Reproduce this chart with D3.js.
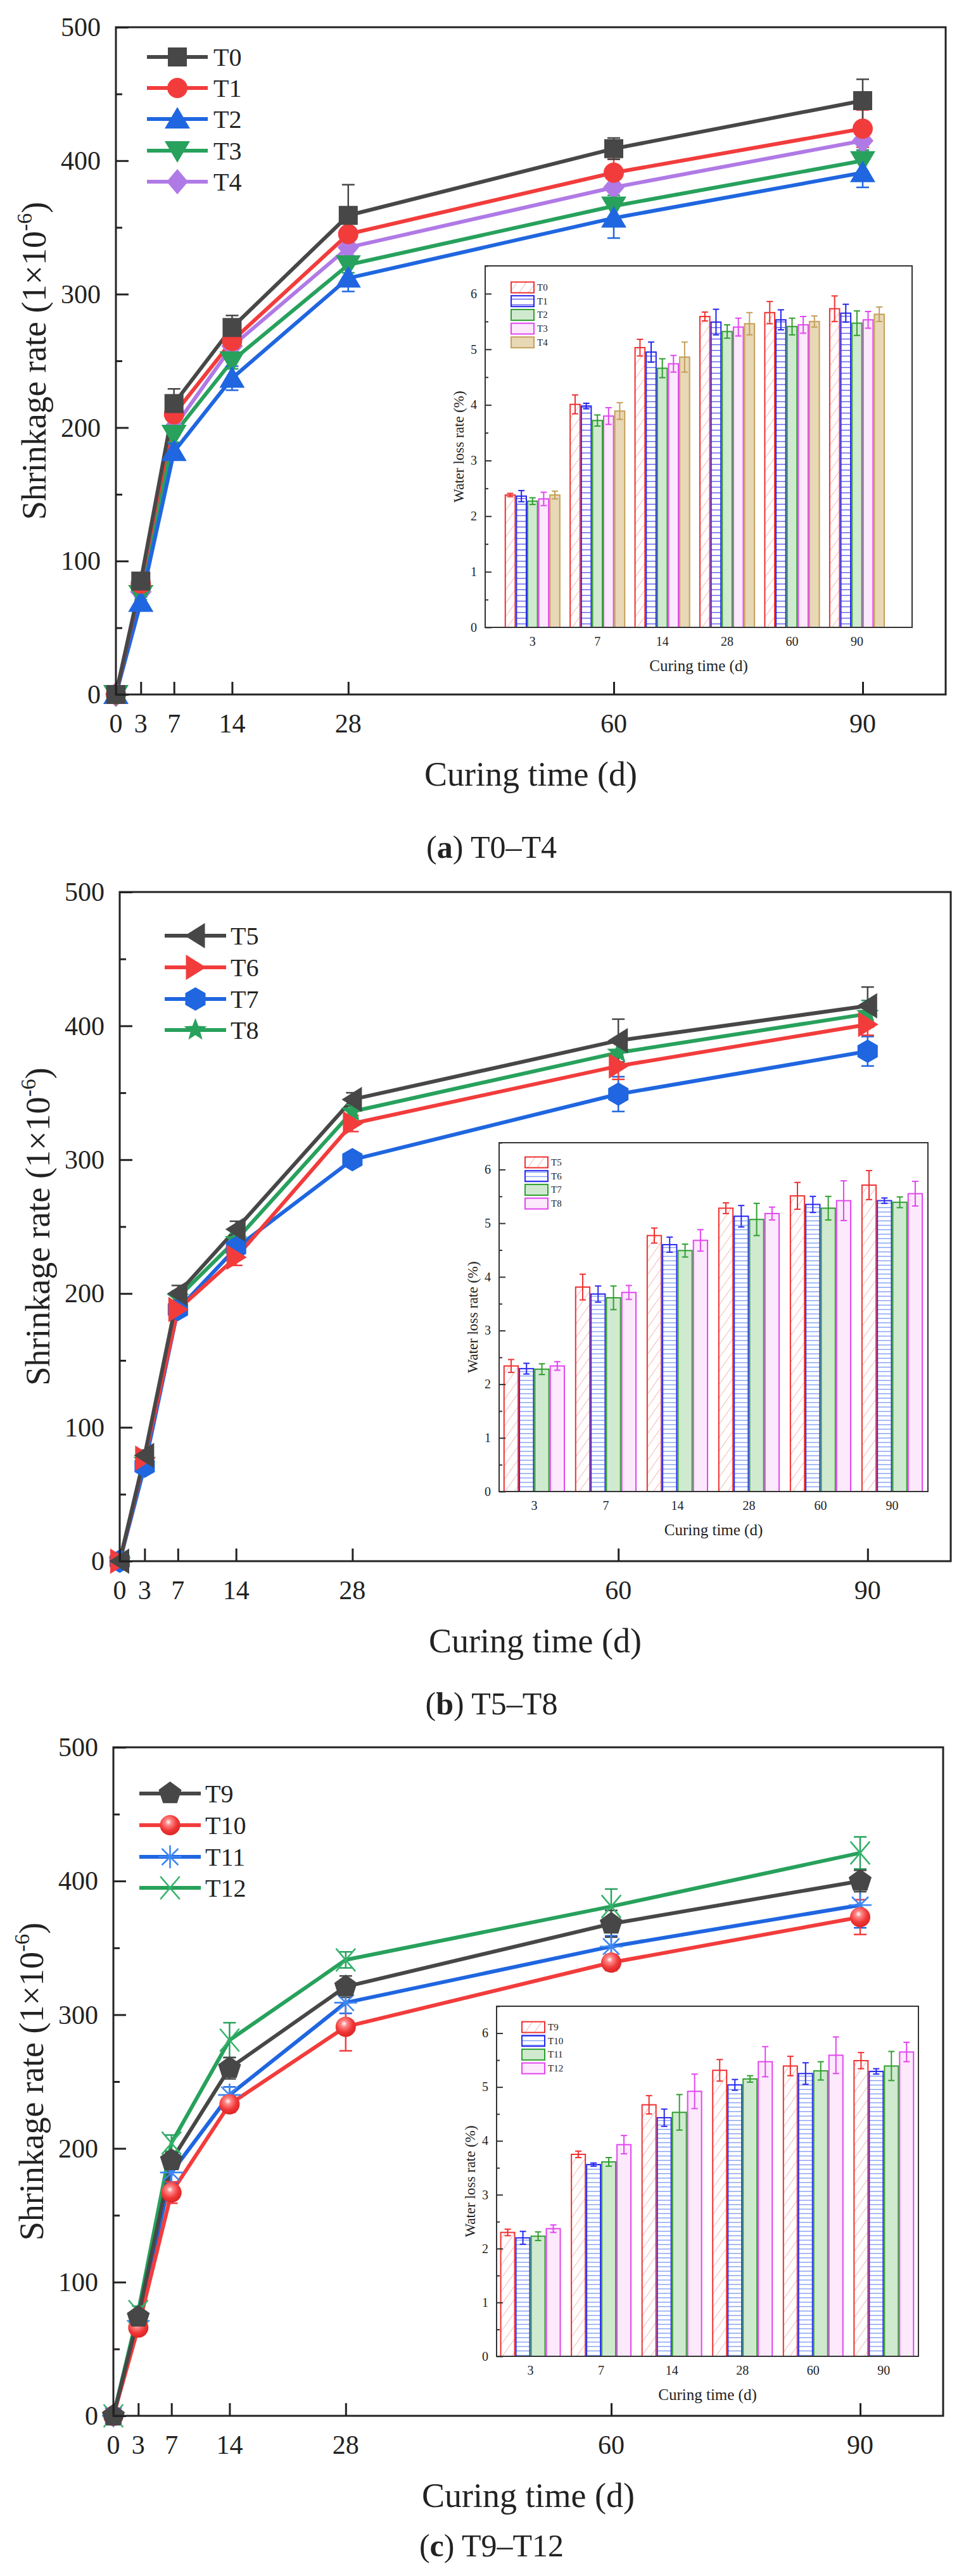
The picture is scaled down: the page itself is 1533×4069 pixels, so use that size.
<!DOCTYPE html>
<html><head><meta charset="utf-8">
<script src="https://cdn.jsdelivr.net/npm/d3@7/dist/d3.min.js"></script>
<style>body{margin:0;background:#fff}svg{display:block}text{font-family:"Liberation Serif","Times New Roman",serif;fill:#222}</style>
</head><body><svg id="c" width="1533" height="4069"></svg>
<script>
// ---------- DATA ----------
const days = [0, 3, 7, 14, 28, 60, 90];
const insetCats = ["3", "7", "14", "28", "60", "90"];
const yTicksMain = [0, 100, 200, 300, 400, 500];
const yTicksInset = [0, 1, 2, 3, 4, 5, 6];

// panel (a)
const namesA = ["T0", "T1", "T2", "T3", "T4"];
const T0 = [0, 85, 218, 275, 359, 409, 445];
const T1 = [0, 83, 210, 265, 345, 391, 424];
const T2 = [0, 69, 182, 237, 312, 357, 391];
const T3 = [0, 75, 195, 250, 322, 366, 400];
const T4 = [0, 77, 200, 261, 335, 380, 415];
const T0err = [0, 4, 11, 9, 23, 8, 16];
const T1err = [0, 4, 8, 6, 8, 10, 14];
const T2err = [0, 4, 6, 9, 10, 15, 11];
const T3err = [0, 4, 6, 6, 6, 8, 8];
const T4err = [0, 4, 6, 6, 6, 8, 8];
const W0 = [2.38, 4.01, 5.03, 5.59, 5.66, 5.73];
const W1 = [2.36, 3.98, 4.95, 5.49, 5.53, 5.65];
const W2 = [2.27, 3.72, 4.66, 5.32, 5.41, 5.47];
const W3 = [2.31, 3.80, 4.74, 5.40, 5.44, 5.53];
const W4 = [2.38, 3.89, 4.86, 5.46, 5.50, 5.63];
const W0err = [0.03, 0.17, 0.15, 0.08, 0.20, 0.23];
const W1err = [0.10, 0.05, 0.18, 0.23, 0.18, 0.16];
const W2err = [0.06, 0.10, 0.17, 0.12, 0.15, 0.22];
const W3err = [0.12, 0.15, 0.15, 0.16, 0.15, 0.15];
const W4err = [0.07, 0.15, 0.27, 0.20, 0.10, 0.13];

// panel (b)
const namesB = ["T5", "T6", "T7", "T8"];
const T5 = [0, 79, 200, 248, 345, 389, 415];
const T6 = [0, 77, 188, 227, 327, 370, 401];
const T7 = [0, 71, 188, 234, 300, 349, 381];
const T8 = [0, 75, 197, 240, 336, 380, 409];
const T5err = [0, 4, 6, 6, 5, 16, 14];
const T6err = [0, 4, 5, 6, 6, 10, 8];
const T7err = [0, 4, 5, 5, 5, 13, 11];
const T8err = [0, 4, 5, 5, 5, 10, 10];
const W5 = [2.34, 3.81, 4.77, 5.28, 5.51, 5.71];
const W6 = [2.29, 3.68, 4.60, 5.13, 5.35, 5.42];
const W7 = [2.28, 3.61, 4.49, 5.07, 5.28, 5.39];
const W8 = [2.34, 3.71, 4.68, 5.18, 5.42, 5.55];
const W5err = [0.12, 0.24, 0.14, 0.10, 0.25, 0.27];
const W6err = [0.10, 0.15, 0.14, 0.20, 0.15, 0.05];
const W7err = [0.10, 0.22, 0.12, 0.30, 0.22, 0.10];
const W8err = [0.08, 0.13, 0.20, 0.12, 0.37, 0.23];

// panel (c)
const namesC = ["T9", "T10", "T11", "T12"];
const T9 = [0, 74, 191, 260, 321, 368, 400];
const T10 = [0, 66, 167, 233, 291, 339, 373];
const T11 = [0, 71, 182, 240, 309, 351, 382];
const T12 = [0, 78, 204, 281, 341, 381, 421];
const T9err = [0, 4, 6, 8, 8, 10, 8];
const T10err = [0, 4, 8, 6, 18, 6, 13];
const T11err = [0, 4, 8, 6, 8, 8, 17];
const T12err = [0, 4, 6, 13, 6, 13, 12];
const W9 = [2.30, 3.75, 4.67, 5.31, 5.39, 5.49];
const W10 = [2.20, 3.56, 4.43, 5.04, 5.25, 5.29];
const W11 = [2.23, 3.61, 4.53, 5.15, 5.30, 5.39];
const W12 = [2.37, 3.93, 4.92, 5.47, 5.59, 5.65];
const W9err = [0.06, 0.06, 0.17, 0.20, 0.18, 0.15];
const W10err = [0.12, 0.03, 0.16, 0.10, 0.20, 0.05];
const W11err = [0.08, 0.08, 0.33, 0.06, 0.17, 0.27];
const W12err = [0.07, 0.17, 0.32, 0.28, 0.34, 0.18];

// ---------- STYLE ----------
const C = {black: "#474747", red: "#f23c3c", blue: "#1f66e0", green: "#27a15c", purple: "#b07ae6",
  blueL: "#3d86f2", greenL: "#33b36b"};
const FONT = '"Liberation Serif","Times New Roman",serif';
const svg = d3.select("#c");
const defs = svg.append("defs");

// patterns for inset bars
function hatchDiag(id, col) {
  const p = defs.append("pattern").attr("id", id).attr("patternUnits", "userSpaceOnUse")
    .attr("width", 12).attr("height", 12).attr("patternTransform", "rotate(35)");
  p.append("rect").attr("width", 12).attr("height", 12).attr("fill", "#fff");
  p.append("line").attr("x1", 0).attr("y1", 0).attr("x2", 0).attr("y2", 12).attr("stroke", col).attr("stroke-width", 1.6);
}
function hatchHoriz(id, col, sp) {
  const p = defs.append("pattern").attr("id", id).attr("patternUnits", "userSpaceOnUse")
    .attr("width", 10).attr("height", sp);
  p.append("rect").attr("width", 10).attr("height", sp).attr("fill", "#fff");
  p.append("line").attr("x1", 0).attr("y1", sp / 2).attr("x2", 10).attr("y2", sp / 2).attr("stroke", col).attr("stroke-width", 1.4);
}
hatchDiag("hRed", "#f7a3a3");
hatchHoriz("hBlue", "#5a5af0", 9);
hatchHoriz("hBlue2", "#7f9ef5", 7);

const grad = defs.append("radialGradient").attr("id", "sphere").attr("cx", "42%").attr("cy", "35%").attr("r", "60%");
grad.append("stop").attr("offset", "0%").attr("stop-color", "#ffffff");
grad.append("stop").attr("offset", "25%").attr("stop-color", "#f88");
grad.append("stop").attr("offset", "70%").attr("stop-color", "#f03838");
grad.append("stop").attr("offset", "100%").attr("stop-color", "#e02828");

const barStyleA = [
  {stroke: "#f03030", fill: "url(#hRed)"},
  {stroke: "#2424ee", fill: "url(#hBlue)"},
  {stroke: "#2f9f2f", fill: "#cfeacf"},
  {stroke: "#e245f0", fill: "#fce9fc"},
  {stroke: "#c4a05a", fill: "#e9d8b6"}
];
const barStyleBC = [
  {stroke: "#f03030", fill: "url(#hRed)"},
  {stroke: "#2a2af0", fill: "url(#hBlue2)"},
  {stroke: "#2f9f2f", fill: "#cfeacf"},
  {stroke: "#e245f0", fill: "#fce9fc"}
];

// ---------- MARKERS ----------
function poly(pts) { return "M" + pts.map(p => p[0].toFixed(2) + "," + p[1].toFixed(2)).join("L") + "Z"; }
function regular(n, r, rot) {
  const pts = [];
  for (let i = 0; i < n; i++) { const a = rot + i * 2 * Math.PI / n; pts.push([r * Math.cos(a), r * Math.sin(a)]); }
  return poly(pts);
}
function star(r1, r2) {
  const pts = [];
  for (let i = 0; i < 10; i++) { const a = -Math.PI / 2 + i * Math.PI / 5; const r = i % 2 ? r2 : r1; pts.push([r * Math.cos(a), r * Math.sin(a)]); }
  return poly(pts);
}
function drawMarker(g, type, x, y, color) {
  const t = g.append("g").attr("transform", `translate(${x},${y})`);
  switch (type) {
    case "square": t.append("rect").attr("x", -15).attr("y", -15).attr("width", 30).attr("height", 30).attr("fill", color); break;
    case "circle": t.append("circle").attr("r", 16).attr("fill", color); break;
    case "up": t.append("path").attr("d", poly([[0, -19], [20, 15], [-20, 15]])).attr("fill", color); break;
    case "down": t.append("path").attr("d", poly([[0, 19], [20, -15], [-20, -15]])).attr("fill", color); break;
    case "diamond": t.append("path").attr("d", poly([[0, -20], [17, 0], [0, 20], [-17, 0]])).attr("fill", color); break;
    case "left": t.append("path").attr("d", poly([[-17, 0], [15, -20], [15, 20]])).attr("fill", color); break;
    case "right": t.append("path").attr("d", poly([[17, 0], [-15, -20], [-15, 20]])).attr("fill", color); break;
    case "hex": t.append("path").attr("d", regular(6, 18.5, -Math.PI / 2)).attr("fill", color); break;
    case "star": t.append("path").attr("d", star(19, 8)).attr("fill", color); break;
    case "pent": t.append("path").attr("d", regular(5, 19, -Math.PI / 2)).attr("fill", color); break;
    case "sphere": t.append("circle").attr("r", 16).attr("fill", "url(#sphere)"); break;
    case "aster": {
      const r = 18;
      [[0, -r, 0, r], [-r, 0, r, 0], [-r * 0.72, -r * 0.72, r * 0.72, r * 0.72], [-r * 0.72, r * 0.72, r * 0.72, -r * 0.72]].forEach(l =>
        t.append("line").attr("x1", l[0]).attr("y1", l[1]).attr("x2", l[2]).attr("y2", l[3]).attr("stroke", color).attr("stroke-width", 2.6));
      break;
    }
    case "cross": {
      const r = 18;
      [[-r * 0.85, -r, r * 0.85, r], [-r * 0.85, r, r * 0.85, -r]].forEach(l =>
        t.append("line").attr("x1", l[0]).attr("y1", l[1]).attr("x2", l[2]).attr("y2", l[3]).attr("stroke", color).attr("stroke-width", 2.6));
      break;
    }
  }
}

// ---------- PANEL ----------
function panel(cfg) {
  const g = svg.append("g");
  const x = d3.scaleLinear().domain([0, 100]).range([cfg.left, cfg.right]);
  const y = d3.scaleLinear().domain([0, 500]).range([cfg.bottom, cfg.top]);

  // series
  cfg.series.forEach(s => {
    const line = d3.line().x((d, i) => x(days[i])).y(d => y(d));
    g.append("path").datum(s.v).attr("d", line).attr("fill", "none")
      .attr("stroke", s.c).attr("stroke-width", 6).attr("stroke-linejoin", "round");
  });
  cfg.series.forEach(s => {
    s.v.forEach((v, i) => {
      const e = s.e[i]; if (!e) return;
      const xx = x(days[i]);
      const ec = s.ec || s.c;
      g.append("line").attr("x1", xx).attr("x2", xx).attr("y1", y(v - e)).attr("y2", y(v + e)).attr("stroke", ec).attr("stroke-width", 2.5);
      [v - e, v + e].forEach(w => g.append("line").attr("x1", xx - 10).attr("x2", xx + 10).attr("y1", y(w)).attr("y2", y(w)).attr("stroke", ec).attr("stroke-width", 2.5));
    });
  });
  cfg.series.forEach(s => {
    s.v.forEach((v, i) => drawMarker(g, s.m, x(days[i]), y(v), s.mc || s.c));
  });

  // frame and axes
  g.append("rect").attr("x", cfg.left).attr("y", cfg.top).attr("width", cfg.right - cfg.left).attr("height", cfg.bottom - cfg.top)
    .attr("fill", "none").attr("stroke", "#222").attr("stroke-width", 3);
  const ya = g.append("g").attr("transform", `translate(${cfg.left},0)`)
    .call(d3.axisRight(y).tickValues(d3.range(0, 501, 50)).tickSize(10).tickFormat(""));
  ya.selectAll("line").attr("stroke", "#222").attr("stroke-width", 3);
  ya.selectAll("line").filter(d => d % 100 === 0).attr("x2", 20);
  ya.select(".domain").remove();
  yTicksMain.forEach(t => g.append("text").attr("x", cfg.left - 24).attr("y", y(t)).attr("dy", "0.34em")
    .attr("text-anchor", "end").attr("font-size", 42).text(t));
  const xa = g.append("g").attr("transform", `translate(0,${cfg.bottom})`)
    .call(d3.axisTop(x).tickValues(days).tickSize(20).tickFormat(""));
  xa.selectAll("line").attr("stroke", "#222").attr("stroke-width", 3);
  xa.select(".domain").remove();
  days.forEach(d => g.append("text").attr("x", x(d)).attr("y", cfg.bottom + 60).attr("text-anchor", "middle").attr("font-size", 42).text(d));

  // titles
  g.append("text").attr("x", (cfg.left + cfg.right) / 2).attr("y", cfg.bottom + 144).attr("text-anchor", "middle")
    .attr("font-size", 54).text("Curing time (d)");
  const yt = g.append("text").attr("transform", `translate(${cfg.left - 111},${(cfg.top + cfg.bottom) / 2}) rotate(-90)`)
    .attr("text-anchor", "middle").attr("font-size", 54);
  yt.append("tspan").text("Shrinkage rate (1×10");
  yt.append("tspan").attr("font-size", 34).attr("dy", -22).text("-6");
  yt.append("tspan").attr("dy", 22).text(")");
  const cap = g.append("text").attr("x", 776).attr("y", cfg.capY + 17).attr("text-anchor", "middle").attr("font-size", 50);
  cap.append("tspan").text("(");
  cap.append("tspan").attr("font-weight", "bold").text(cfg.capL);
  cap.append("tspan").text(") " + cfg.capT);

  // legend
  cfg.series.forEach((s, i) => {
    const ly = cfg.leg.y[i];
    g.append("line").attr("x1", cfg.leg.x1).attr("x2", cfg.leg.x2).attr("y1", ly).attr("y2", ly).attr("stroke", s.c).attr("stroke-width", 6);
    drawMarker(g, s.m, (cfg.leg.x1 + cfg.leg.x2) / 2, ly, s.mc || s.c);
    g.append("text").attr("x", cfg.leg.tx).attr("y", ly + 14).attr("font-size", 40).text(s.n);
  });

  // inset
  const I = cfg.inset;
  const ig = g.append("g");
  ig.append("rect").attr("x", I.left).attr("y", I.top).attr("width", I.right - I.left).attr("height", I.bottom - I.top).attr("fill", "#fff");
  const xi = d3.scaleLinear().domain(I.dom).range([I.left, I.right]);
  const yi = d3.scaleLinear().domain([0, 6.5]).range([I.bottom, I.top]);
  const n = I.bars.length;
  const bw = (xi(1) - xi(0)) * 0.86 / n;
  I.bars.forEach((b, k) => {
    b.v.forEach((v, i) => {
      const bx = xi(i) - bw * n / 2 + k * bw;
      ig.append("rect").attr("x", bx + 1).attr("y", yi(v)).attr("width", bw - 2).attr("height", yi(0) - yi(v))
        .attr("fill", b.s.fill).attr("stroke", b.s.stroke).attr("stroke-width", 2);
    });
  });
  I.bars.forEach((b, k) => {
    b.v.forEach((v, i) => {
      const cx = xi(i) - bw * n / 2 + (k + 0.5) * bw, e = b.e[i];
      ig.append("line").attr("x1", cx).attr("x2", cx).attr("y1", yi(v - e)).attr("y2", yi(v + e)).attr("stroke", b.s.stroke).attr("stroke-width", 2);
      [v - e, v + e].forEach(w => ig.append("line").attr("x1", cx - 5).attr("x2", cx + 5).attr("y1", yi(w)).attr("y2", yi(w)).attr("stroke", b.s.stroke).attr("stroke-width", 2));
    });
  });
  ig.append("rect").attr("x", I.left).attr("y", I.top).attr("width", I.right - I.left).attr("height", I.bottom - I.top)
    .attr("fill", "none").attr("stroke", "#333").attr("stroke-width", 2);
  const yia = ig.append("g").attr("transform", `translate(${I.left},0)`)
    .call(d3.axisRight(yi).tickValues(d3.range(0, 6.51, 0.5)).tickSize(5).tickFormat(""));
  yia.selectAll("line").attr("stroke", "#333").attr("stroke-width", 2);
  yia.selectAll("line").filter(d => Number.isInteger(d)).attr("x2", 10);
  yia.select(".domain").remove();
  yTicksInset.forEach(t => ig.append("text").attr("x", I.left - 13).attr("y", yi(t)).attr("dy", "0.34em").attr("text-anchor", "end").attr("font-size", 20).text(t));
  insetCats.forEach((c, i) => ig.append("text").attr("x", xi(i)).attr("y", I.bottom + 29).attr("text-anchor", "middle").attr("font-size", 20).text(c));
  ig.append("text").attr("x", (I.left + I.right) / 2).attr("y", I.bottom + 69).attr("text-anchor", "middle").attr("font-size", 25).text("Curing time (d)");
  ig.append("text").attr("transform", `translate(${I.left - 34},${(I.top + I.bottom) / 2}) rotate(-90)`).attr("text-anchor", "middle")
    .attr("font-size", 23).text("Water loss rate (%)");
  I.bars.forEach((b, k) => {
    const ly = I.leg.y0 + k * 21.7;
    ig.append("rect").attr("x", I.leg.x).attr("y", ly - 8.5).attr("width", 36).attr("height", 17)
      .attr("fill", b.s.fill).attr("stroke", b.s.stroke).attr("stroke-width", 2);
    ig.append("text").attr("x", I.leg.x + 41).attr("y", ly + 5).attr("font-size", 15).text(b.n);
  });
}

panel({
  left: 183, right: 1493, top: 43, bottom: 1097, capY: 1338, capL: "a", capT: "T0–T4",
  series: [
    {n: "T0", v: T0, e: T0err, c: C.black, m: "square"},
    {n: "T1", v: T1, e: T1err, c: C.red, m: "circle"},
    {n: "T2", v: T2, e: T2err, c: C.blue, m: "up"},
    {n: "T3", v: T3, e: T3err, c: C.green, m: "down"},
    {n: "T4", v: T4, e: T4err, c: C.purple, m: "diamond"}
  ].reverse(),
  leg: {x1: 232, x2: 328, tx: 337, y: [287, 238, 188, 139, 90]},
  inset: {left: 766, right: 1440, top: 420, bottom: 991, dom: [-0.73, 5.85],
    leg: {x: 807, y0: 454},
    bars: [
      {n: "T0", v: W0, e: W0err, s: barStyleA[0]},
      {n: "T1", v: W1, e: W1err, s: barStyleA[1]},
      {n: "T2", v: W2, e: W2err, s: barStyleA[2]},
      {n: "T3", v: W3, e: W3err, s: barStyleA[3]},
      {n: "T4", v: W4, e: W4err, s: barStyleA[4]}
    ]}
});

panel({
  left: 189, right: 1501, top: 1409, bottom: 2466, capY: 2691, capL: "b", capT: "T5–T8",
  series: [
    {n: "T5", v: T5, e: T5err, c: C.black, m: "left"},
    {n: "T6", v: T6, e: T6err, c: C.red, m: "right"},
    {n: "T7", v: T7, e: T7err, c: C.blue, m: "hex"},
    {n: "T8", v: T8, e: T8err, c: C.green, m: "star"}
  ].reverse(),
  leg: {x1: 260, x2: 357, tx: 364, y: [1627, 1578, 1528, 1478]},
  inset: {left: 788, right: 1465, top: 1805, bottom: 2356, dom: [-0.49, 5.5],
    leg: {x: 829, y0: 1836},
    bars: [
      {n: "T5", v: W5, e: W5err, s: barStyleBC[0]},
      {n: "T6", v: W6, e: W6err, s: barStyleBC[1]},
      {n: "T7", v: W7, e: W7err, s: barStyleBC[2]},
      {n: "T8", v: W8, e: W8err, s: barStyleBC[3]}
    ]}
});

panel({
  left: 179, right: 1489, top: 2760, bottom: 3816, capY: 4021, capL: "c", capT: "T9–T12",
  series: [
    {n: "T9", v: T9, e: T9err, c: C.black, m: "pent"},
    {n: "T10", v: T10, e: T10err, c: C.red, m: "sphere"},
    {n: "T11", v: T11, e: T11err, c: C.blue, m: "aster", mc: C.blueL},
    {n: "T12", v: T12, e: T12err, c: C.green, m: "cross", mc: C.greenL}
  ].reverse(),
  leg: {x1: 220, x2: 317, tx: 324, y: [2982, 2933, 2883, 2833]},
  inset: {left: 784, right: 1450, top: 3169, bottom: 3722, dom: [-0.48, 5.49],
    leg: {x: 824, y0: 3202},
    bars: [
      {n: "T9", v: W9, e: W9err, s: barStyleBC[0]},
      {n: "T10", v: W10, e: W10err, s: barStyleBC[1]},
      {n: "T11", v: W11, e: W11err, s: barStyleBC[2]},
      {n: "T12", v: W12, e: W12err, s: barStyleBC[3]}
    ]}
});
</script></body></html>
